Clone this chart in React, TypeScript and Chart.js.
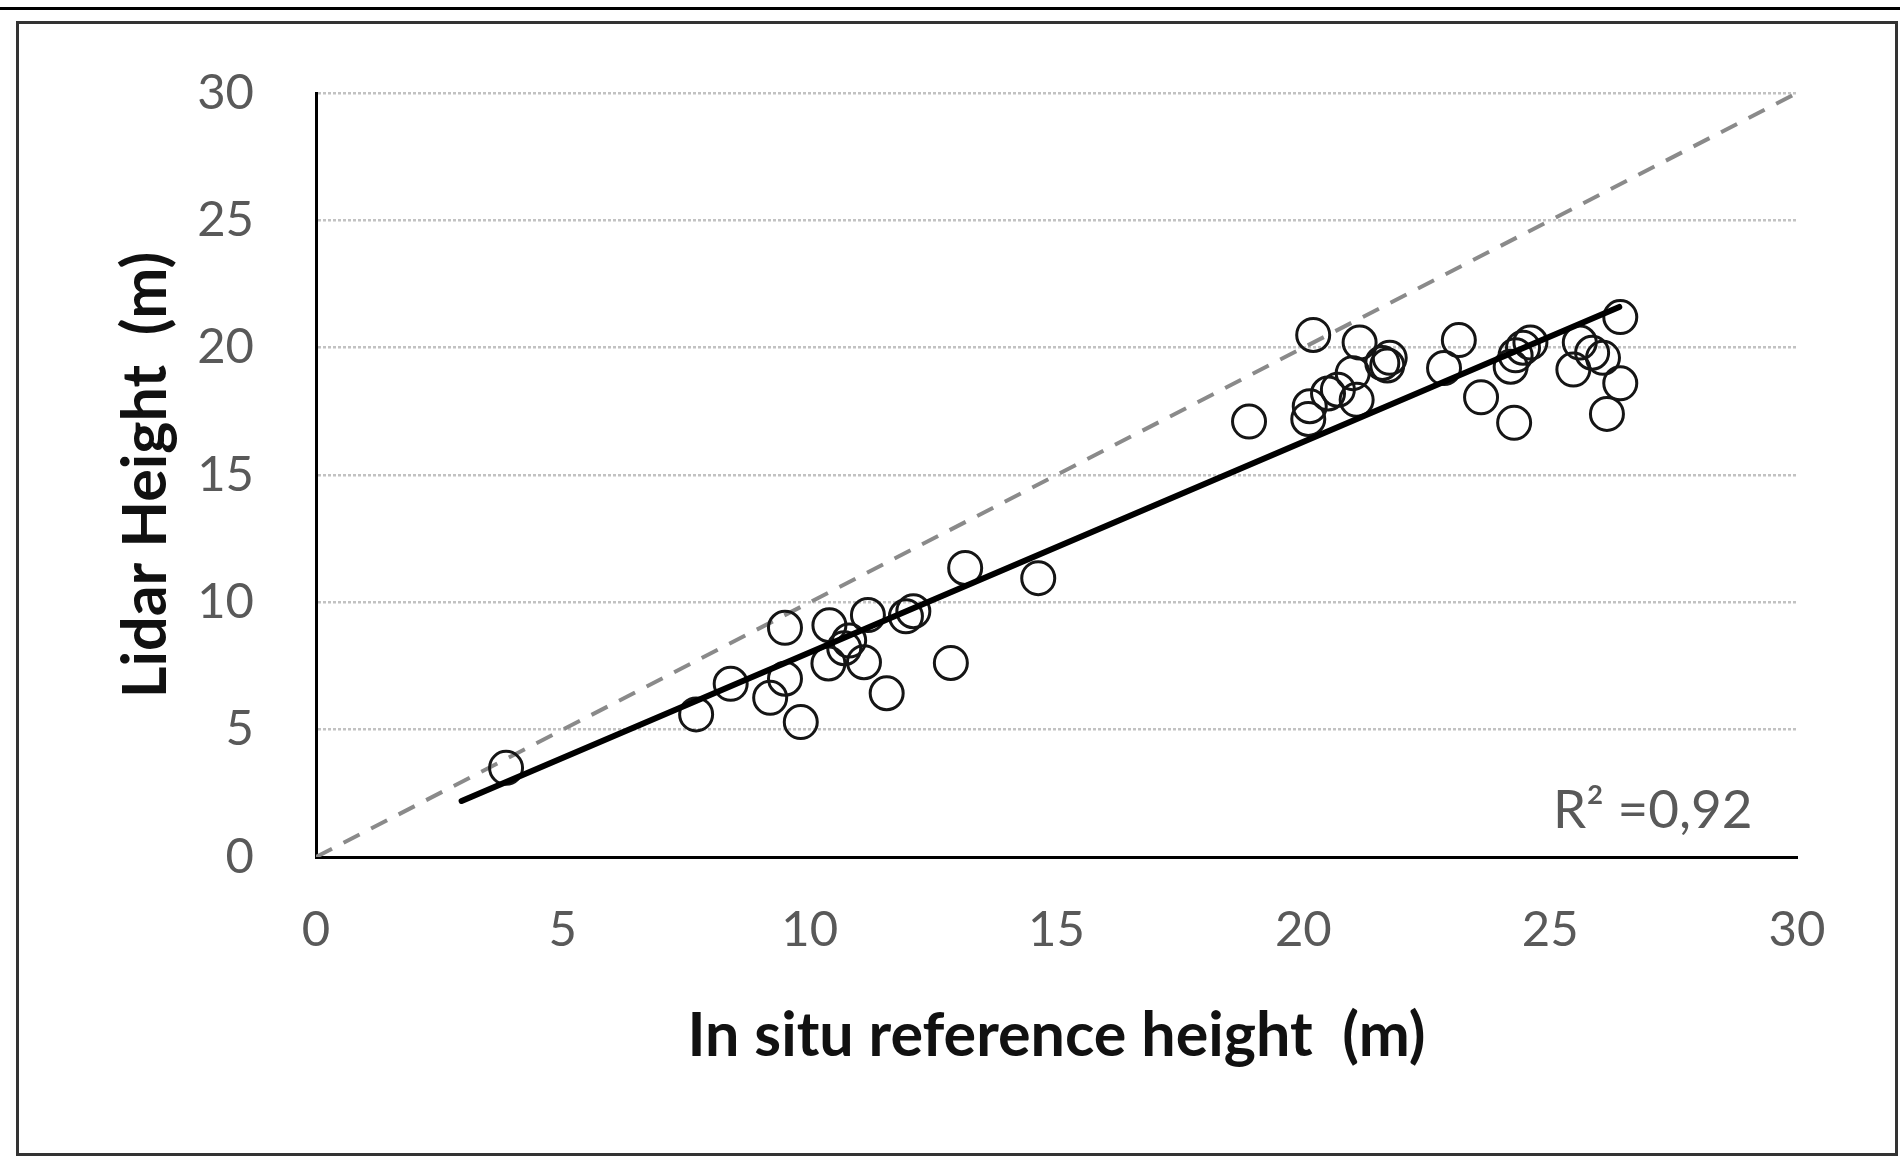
import React, { useEffect, useRef } from "react";
import { Chart, registerables } from "chart.js";

Chart.register(...registerables);

// Data
const insituX: number[] = [
  3.85, 7.7, 8.4, 9.2, 9.5, 9.5, 9.82, 10.38, 10.4, 10.7, 10.8, 11.1, 11.18, 11.56, 11.95, 12.1, 12.86, 13.15, 14.63,
  18.9, 20.2, 20.1, 20.13, 20.5, 20.7, 21.0, 21.08, 21.14, 21.6, 21.7, 21.75, 22.85, 23.15, 23.6, 24.2, 24.3, 24.45,
  24.6, 24.27, 25.47, 25.6, 25.85, 26.07, 26.42, 26.42, 26.15,
];
const lidarY: number[] = [
  3.5, 5.6, 6.8, 6.25, 7.0, 9.0, 5.3, 7.6, 9.1, 8.2, 8.5, 7.65, 9.5, 6.43, 9.45, 9.65, 7.62, 11.35, 10.95,
  17.1, 20.5, 17.2, 17.7, 18.2, 18.35, 19.0, 17.95, 20.2, 19.4, 19.3, 19.6, 19.2, 20.3, 18.05, 19.25, 19.7, 20.0,
  20.2, 17.05, 19.14, 20.2, 19.8, 19.6, 21.2, 18.6, 17.4,
];
const trendX: number[] = [2.95, 26.4];
const trendY: number[] = [2.2, 21.6];
const identityX: number[] = [0, 30];
const identityY: number[] = [0, 30];
const axisMin = 0;
const axisMax = 30;
const axisStep = 5;
const xTitle = "In situ reference height  (m)";
const yTitle = "Lidar Height  (m)";
const r2Label = "R\u00B2 =0,92";
const r2AtX = 29.1;
const r2AtY = 1.8;

const FONT = "Lato, 'Open Sans', sans-serif";

export default function App() {
  const ref = useRef<HTMLCanvasElement | null>(null);

  useEffect(() => {
    if (!ref.current) return;
    const r2Plugin = {
      id: "r2text",
      afterDatasetsDraw(chart: any) {
        const { ctx, scales } = chart;
        const px = scales.x.getPixelForValue(r2AtX);
        const py = scales.y.getPixelForValue(r2AtY);
        ctx.save();
        ctx.font = `53px ${FONT}`;
        ctx.fillStyle = "#595959";
        ctx.textAlign = "right";
        ctx.textBaseline = "middle";
        ctx.fillText(r2Label, px, py);
        ctx.restore();
      },
    };

    const chart = new Chart(ref.current, {
      type: "scatter",
      data: {
        datasets: [
          {
            label: "trend",
            data: trendX.map((x, i) => ({ x, y: trendY[i] })),
            showLine: true,
            borderColor: "#000000",
            borderWidth: 6,
            pointRadius: 0,
            borderCapStyle: "round",
          } as any,
          {
            label: "points",
            data: insituX.map((x, i) => ({ x, y: lidarY[i] })),
            pointStyle: "circle",
            pointRadius: 16.5,
            pointBorderWidth: 3,
            borderColor: "#151515",
            backgroundColor: "rgba(0,0,0,0)",
            pointBackgroundColor: "rgba(0,0,0,0)",
            pointBorderColor: "#151515",
          } as any,
          {
            label: "1:1",
            data: identityX.map((x, i) => ({ x, y: identityY[i] })),
            showLine: true,
            borderColor: "#8a8a8a",
            borderWidth: 4,
            borderDash: [18, 13],
            pointRadius: 0,
          } as any,
        ],
      },
      options: {
        animation: false,
        responsive: false,
        devicePixelRatio: 1,
        layout: { padding: { top: 93, right: 103, left: 0, bottom: 0 } },
        plugins: { legend: { display: false }, tooltip: { enabled: false } },
        scales: {
          x: {
            type: "linear",
            min: axisMin,
            max: axisMax,
            ticks: {
              stepSize: axisStep,
              padding: 44,
              color: "#595959",
              font: { family: FONT, size: 49 },
            },
            grid: { display: false, drawTicks: false },
            border: { display: true, color: "#000000", width: 3 },
            title: {
              display: true,
              text: xTitle,
              color: "#111111",
              font: { family: FONT, size: 61, weight: "bold" },
              padding: { top: 0, bottom: 86 },
            },
            afterFit: (s: any) => {
              s.height = 302;
            },
          },
          y: {
            type: "linear",
            min: axisMin,
            max: axisMax,
            ticks: {
              stepSize: axisStep,
              padding: 62,
              color: "#595959",
              font: { family: FONT, size: 49 },
            },
            grid: {
              drawTicks: false,
              lineWidth: 2.5,
              color: (c: any) => (c.tick && c.tick.value === 0 ? "rgba(0,0,0,0)" : "#c2c2c2"),
            } as any,
            border: { display: true, color: "#000000", width: 3, dash: [3, 2], dashOffset: 0 } as any,
            title: {
              display: true,
              text: yTitle,
              color: "#111111",
              font: { family: FONT, size: 61, weight: "bold" },
              padding: { top: 110, bottom: 0 },
            },
            afterFit: (s: any) => {
              s.width = 316;
            },
          },
        },
      },
      plugins: [r2Plugin],
    });
    return () => chart.destroy();
  }, []);

  return (
    <div
      style={{
        position: "fixed",
        left: 0,
        top: 0,
        width: 1900,
        height: 1159,
        background: "#ffffff",
        overflow: "hidden",
      }}
    >
      <div style={{ position: "absolute", left: 0, top: 7, width: 1900, height: 3, background: "#000" }} />
      <div
        style={{
          position: "absolute",
          left: 16,
          top: 21,
          width: 1882,
          height: 1135,
          boxSizing: "border-box",
          border: "3px solid #333",
        }}
      />
      <canvas ref={ref} width={1900} height={1159} style={{ position: "absolute", left: 0, top: 0 }} />
    </div>
  );
}
